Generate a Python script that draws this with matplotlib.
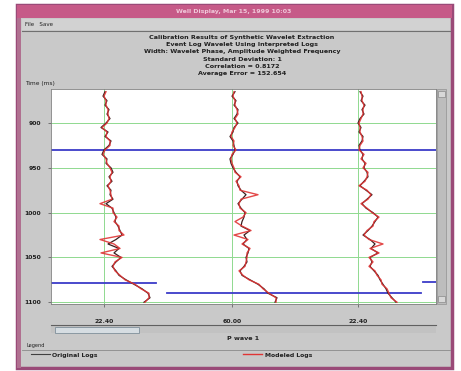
import numpy as np
import matplotlib
matplotlib.use("Agg")
import matplotlib.pyplot as plt
from matplotlib.patches import Rectangle

# window / titles
win_title = "Well Display, Mar 15, 1999 10:03"
menu_items = ["File", "Save"]
title_lines = [
    "Calibration Results of Synthetic Wavelet Extraction",
    "Event Log Wavelet Using Interpreted Logs",
    "Width: Wavelet Phase, Amplitude Weighted Frequency",
    "Standard Deviation: 1",
    "Correlation = 0.8172",
    "Average Error = 152.654",
]
y_label = "Time (ms)"
x_label = "P wave 1"
legend_names = ["Original Logs", "Modeled Logs"]

# time axis
yticks = [900, 950, 1000, 1050, 1100]
time = np.arange(865, 1101, 5)

# track baselines (x) and their labels
track_base = [104, 232, 358]
track_labels = ["22.40", "60.00", "22.40"]

# log deviations from baseline, one value per sample in time
orig1 = [1, -1, 3, 1, 5, 3, 6, 2, -3, 4, 1, 7, 5, 0, -2, 3, 2, 7, 9, 5, 8, 3, 7, 6,
         9, 2, 8, 10, 12, 11, 14, 16, 18, 12, 4, 15, 10, 17, 12, 8, 12, 15, 22, 30,
         38, 44, 46, 40]
model1 = [2, 0, 2, 2, 4, 4, 5, 3, -2, 3, 2, 6, 6, 1, -1, 2, 3, 6, 8, 6, 7, 4, 6, 7,
          8, -4, 9, 9, 13, 10, 15, 15, 20, -4, 10, 16, -3, 18, 11, 9, 11, 16, 21, 31,
          37, 45, 45, 41]
orig2 = [3, 0, 4, 2, 6, 5, 2, 6, 2, 1, -2, 1, 2, 3, 1, -2, -1, 1, 4, 8, 5, 6, 9, 14,
         10, 6, 9, 13, 12, 10, 9, 18, 12, 15, 11, 17, 16, 14, 15, 12, 8, 10, 18, 26,
         32, 36, 45, 43]
model2 = [2, 1, 3, 3, 5, 6, 3, 5, 3, 0, -1, 2, 1, 4, 0, -1, 0, 2, 3, 9, 4, 7, 8, 26,
          9, 7, 8, 14, 11, 3, 10, 19, 2, 16, 10, 18, 15, 15, 14, 13, 7, 11, 17, 27,
          31, 37, 44, 44]
orig3 = [2, 5, 3, 7, 4, 6, 2, 0, 3, 1, 5, 4, 1, 2, 5, 4, 7, 6, 9, 10, 6, 2, 8, 14,
         9, 4, 8, 15, 20, 17, 14, 10, 5, 12, 17, 13, 20, 12, 14, 12, 16, 20, 22, 25,
         28, 30, 34, 38]
model3 = [3, 4, 4, 6, 5, 5, 3, 1, 2, 2, 4, 5, 2, 1, 6, 3, 8, 5, 10, 9, 7, 1, 9, 13,
          10, 3, 9, 14, 21, 16, 15, 9, 6, 11, 25, 12, 21, 11, 15, 11, 17, 19, 23, 24,
          29, 31, 33, 39]

# horizon picks: (time, x start, x end)
horizons = [(930, 51, 436), (1079, 51, 156), (1090, 167, 421), (1078, 423, 436)]

W, H = 461, 371
fig = plt.figure(figsize=(W / 100, H / 100), dpi=100, facecolor="white")

# background layer in pixel coordinates
bg = fig.add_axes([0, 0, 1, 1], zorder=0)
bg.set_xlim(0, W)
bg.set_ylim(H, 0)
bg.axis("off")

gray = "#c9c9c9"
bg.add_patch(Rectangle((17, 5), 435, 363, facecolor=gray, edgecolor="#9a4a78", lw=2.5))
bg.add_patch(Rectangle((17, 5), 435, 13, facecolor="#c65a88", edgecolor="none"))
bg.add_patch(Rectangle((17, 18), 4, 350, facecolor="#b07090", edgecolor="none"))
bg.text(234, 11.5, win_title, ha="center", va="center", fontsize=4.5,
        color="#f0c8da", fontweight="bold")
bg.add_patch(Rectangle((22, 19), 428, 11, facecolor="#d2d2d2", edgecolor="none"))
bg.plot([22, 450], [30.5, 30.5], color="#707070", lw=0.8)
bg.text(25, 24.5, "   ".join(menu_items), ha="left", va="center", fontsize=4, color="#222222")

for i, line in enumerate(title_lines):
    bg.text(242, 37 + i * 7.4, line, ha="center", va="center", fontsize=4.6,
            color="#202020", fontweight="bold")

bg.text(25, 84, y_label, ha="left", va="center", fontsize=4.2, color="#202020")

# right scrollbar
bg.add_patch(Rectangle((437, 89), 9, 215, facecolor="#bdbdbd", edgecolor="#9a9a9a", lw=0.6))
bg.add_patch(Rectangle((438, 91), 7, 6, facecolor="#d8d8d8", edgecolor="#8a8a8a", lw=0.5))
bg.add_patch(Rectangle((438, 296), 7, 6, facecolor="#d8d8d8", edgecolor="#8a8a8a", lw=0.5))

# bottom scrollbar
bg.plot([51, 436], [325, 325], color="#606060", lw=0.8)
bg.add_patch(Rectangle((51, 326), 385, 7, facecolor="#c2c2c2", edgecolor="none"))
bg.add_patch(Rectangle((55, 327), 84, 5.5, facecolor="#d6dde2", edgecolor="#7f8f9a", lw=0.6))

bg.text(243, 339, x_label, ha="center", va="center", fontsize=4.6, color="#202020",
        fontweight="bold")

# legend
bg.text(26, 346, "Legend", ha="left", va="center", fontsize=3.6, color="#202020")
bg.plot([22, 450], [350, 350], color="#8a8a8a", lw=0.6)
bg.plot([31, 50], [354, 354], color="#404040", lw=0.8)
bg.text(52, 355, legend_names[0], ha="left", va="center", fontsize=4.4, color="#202020",
        fontweight="bold")
bg.plot([243, 262], [354, 354], color="#e03535", lw=1.0)
bg.text(265, 355, legend_names[1], ha="left", va="center", fontsize=4.4, color="#202020",
        fontweight="bold")

# main plot
ax = fig.add_axes([51 / W, 1 - 304 / H, 385 / W, 215 / H], zorder=1)
ax.set_facecolor("white")
ax.set_xlim(51, 436)
ax.set_ylim(1102, 862)

for t in yticks:
    ax.axhline(t, color="#8fd98f", lw=0.7, zorder=1)
for xb in track_base:
    ax.axvline(xb, color="#8fd98f", lw=0.7, zorder=1)

for t, x0, x1 in horizons:
    ax.plot([x0, x1], [t, t], color="#3c3cc8", lw=1.3, zorder=2)

origs = [orig1, orig2, orig3]
models = [model1, model2, model3]
for xb, o, m in zip(track_base, origs, models):
    ax.plot(xb + np.array(o), time, color="#3a2020", lw=0.9, zorder=3)
    ax.plot(xb + np.array(m), time, color="#e03535", lw=1.0, alpha=0.9, zorder=4)

ax.set_yticks(yticks)
ax.set_yticklabels([str(t) for t in yticks], fontsize=4.4, fontweight="bold", color="#202020")
ax.set_xticks(track_base)
ax.set_xticklabels(track_labels, fontsize=4.4, fontweight="bold", color="#202020")
ax.tick_params(axis="y", length=2, width=0.5, pad=5, colors="#505050", labelcolor="#202020")
ax.tick_params(axis="x", length=2, width=0.5, pad=9, colors="#505050", labelcolor="#202020")
for s in ax.spines.values():
    s.set_color("#808080")
    s.set_linewidth(0.6)

fig.savefig("out.png", dpi=100, facecolor="white")
